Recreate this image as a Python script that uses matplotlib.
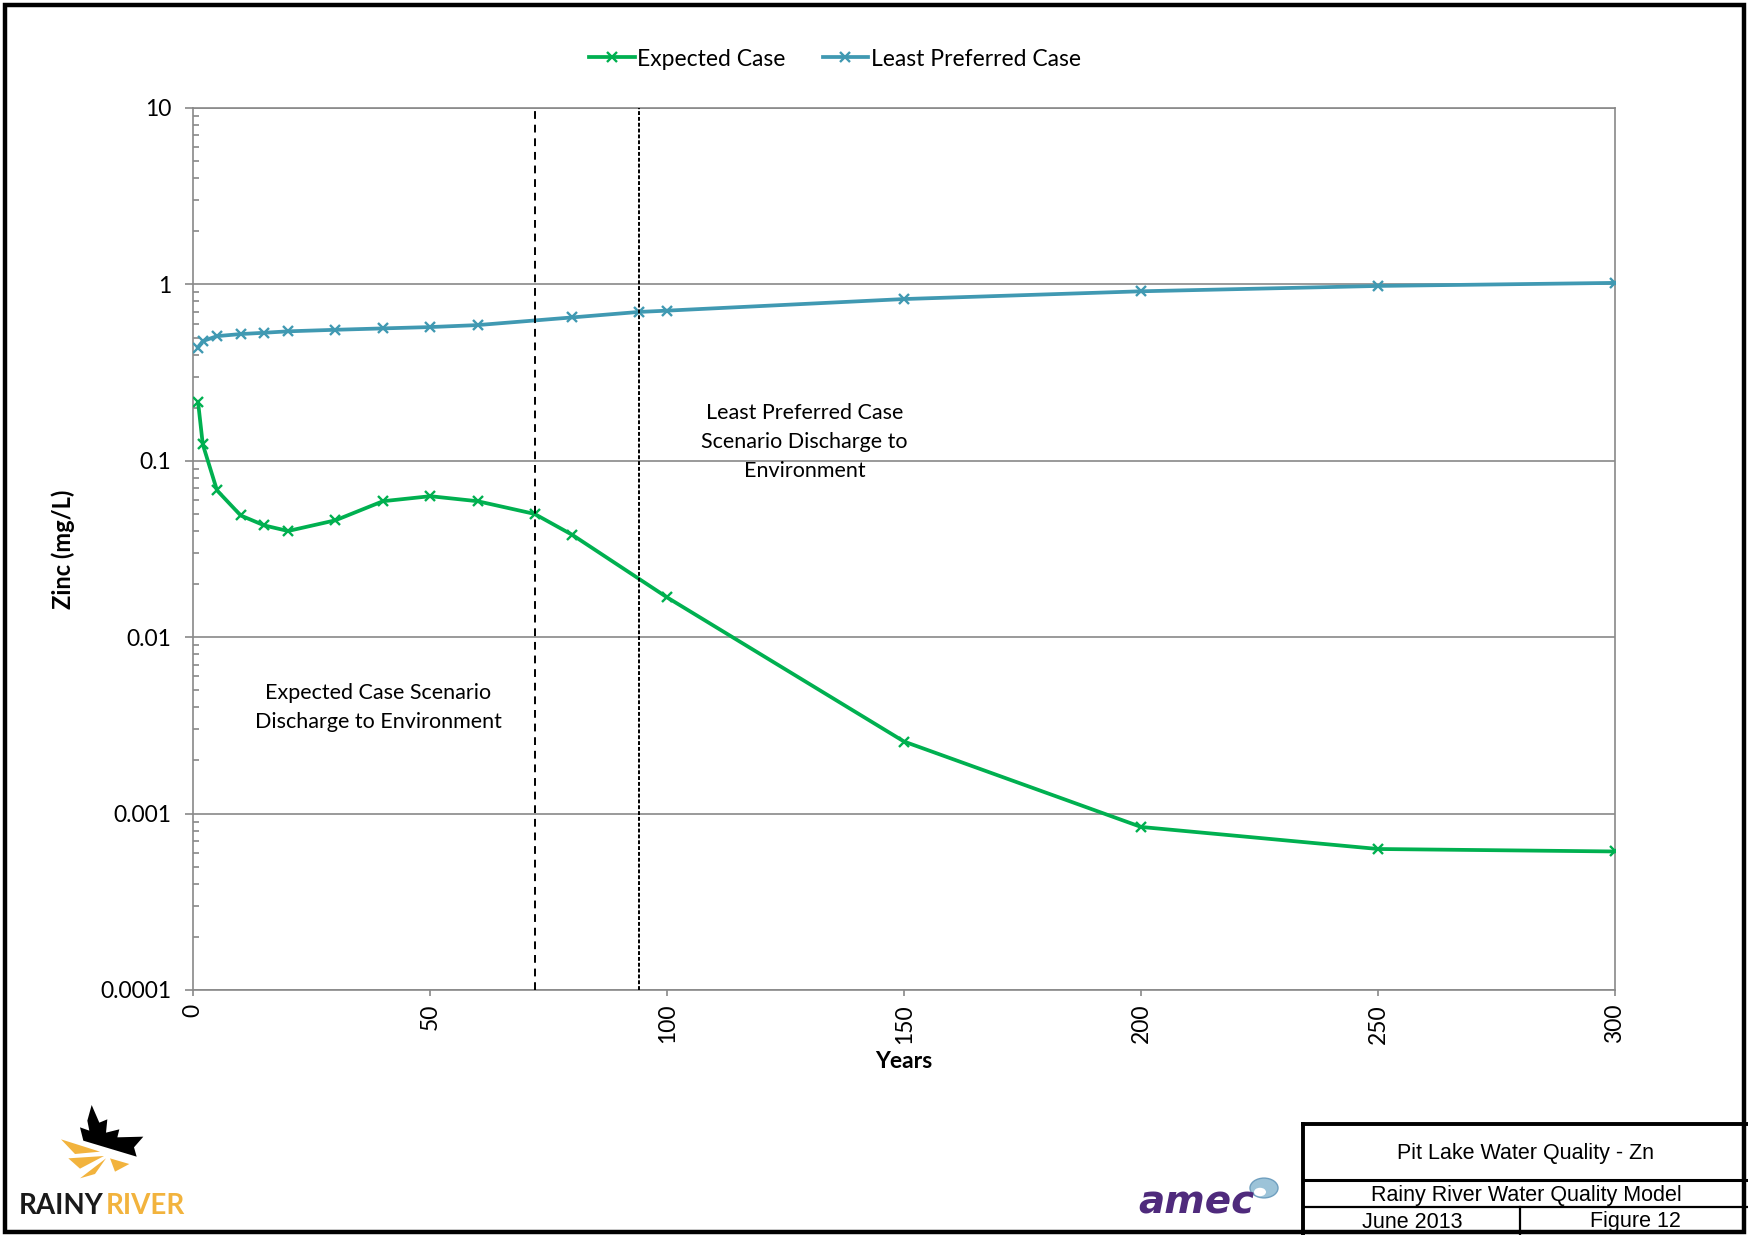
import numpy as np
import matplotlib
matplotlib.use('Agg')
import matplotlib.pyplot as plt
from matplotlib.lines import Line2D
from matplotlib.patches import Polygon, Rectangle, Circle
from matplotlib.ticker import LogLocator, FixedLocator, FuncFormatter, NullFormatter

# data
years_expected = [1, 2, 5, 10, 15, 20, 30, 40, 50, 60, 72, 80, 100, 150, 200, 250, 300]
zn_expected = [0.216, 0.124, 0.068, 0.049, 0.043, 0.040, 0.046, 0.059, 0.063, 0.059,
               0.050, 0.038, 0.0168, 0.00256, 0.00084, 0.00063, 0.00061]
years_least = [1, 2, 5, 10, 15, 20, 30, 40, 50, 60, 80, 94, 100, 150, 200, 250, 300]
zn_least = [0.438, 0.477, 0.509, 0.523, 0.532, 0.542, 0.553, 0.563, 0.573, 0.588,
            0.650, 0.698, 0.710, 0.826, 0.914, 0.98, 1.02]
discharge_years = [72, 94]
x_ticks = [0, 50, 100, 150, 200, 250, 300]
y_ticks = [0.0001, 0.001, 0.01, 0.1, 1, 10]

W, H = 1749, 1235
GREEN = '#00b050'
BLUE = '#4099b2'
GRID = '#898989'
FONT = 'Lato'


def px(x, y):
    # pixel position (from top left) -> figure fraction
    return x / W, 1 - y / H


fig = plt.figure(figsize=(W / 100, H / 100), dpi=100)
ax = fig.add_axes([193.3 / W, 1 - 990 / H, (1615 - 193.3) / W, (990 - 108) / H])

ax.plot(years_expected, zn_expected, color=GREEN, lw=2.7, marker='x', ms=6.5,
        mew=1.7, label='Expected Case', zorder=3)
ax.plot(years_least, zn_least, color=BLUE, lw=2.7, marker='x', ms=6.5,
        mew=1.7, label='Least Preferred Case', zorder=3)

ax.axvline(discharge_years[0], color='black', lw=1.4, ls=(0, (4, 3)), zorder=4)
ax.axvline(discharge_years[1], color='black', lw=1.4, ls=(0, (2, 1)), zorder=4)

ax.set_yscale('log')
ax.set_ylim(1e-4, 10)
ax.set_xlim(0, 300)
ax.yaxis.set_major_locator(FixedLocator(y_ticks))
ax.yaxis.set_major_formatter(FuncFormatter(lambda v, p: f'{v:g}'))
ax.yaxis.set_minor_locator(LogLocator(base=10, subs=np.arange(2, 10)))
ax.yaxis.set_minor_formatter(NullFormatter())
ax.set_xticks(x_ticks)
ax.set_xticklabels([str(t) for t in x_ticks], rotation=90)

ax.grid(axis='y', which='major', color=GRID, lw=1.2, zorder=0)
for s in ax.spines.values():
    s.set_color(GRID)
    s.set_linewidth(1.2)

ax.tick_params(axis='y', which='major', direction='out', length=6, width=1.2,
               color=GRID, pad=10, labelsize=16.5)
ax.tick_params(axis='y', which='minor', direction='in', length=4.5, width=1.2,
               color=GRID)
ax.tick_params(axis='x', which='major', direction='out', length=4, width=1.2,
               color=GRID, pad=6, labelsize=16.5)
for lab in ax.get_xticklabels() + ax.get_yticklabels():
    lab.set_fontfamily(FONT)

ax.set_xlabel('Years', fontsize=16.5, fontweight='bold', fontfamily=FONT)
ax.xaxis.set_label_coords(0.5, -0.069)
ax.set_ylabel('Zinc (mg/L)', fontsize=17, fontweight='bold', fontfamily=FONT)
ax.yaxis.set_label_coords(-0.083, 0.5)

ax.text(129, 0.128, 'Least Preferred Case\nScenario Discharge to\nEnvironment',
        ha='center', va='center', fontsize=15.5, fontfamily=FONT, linespacing=1.55)
ax.text(39, 0.0040, 'Expected Case Scenario\nDischarge to Environment',
        ha='center', va='center', fontsize=15.5, fontfamily=FONT, linespacing=1.55)

leg = fig.legend(loc='center', bbox_to_anchor=px(835, 59), ncol=2, frameon=False,
                 handlelength=2.0, handletextpad=0.1, columnspacing=1.6,
                 numpoints=1, prop={'family': FONT, 'size': 16.5})

# outer frame
fig.add_artist(Rectangle(px(5, 1232), (W - 10) / W, (1232 - 5) / H, fill=False,
                         ec='black', lw=3.2, transform=fig.transFigure))

# title block
def fig_line(x0, y0, x1, y1, lw):
    a, b = px(x0, y0)
    c, d = px(x1, y1)
    fig.add_artist(Line2D([a, c], [b, d], color='black', lw=lw,
                          transform=fig.transFigure))

fig_line(1303, 1124, W, 1124, 2.8)
fig_line(1303, 1124, 1303, H, 2.8)
fig_line(1303, 1180, W, 1180, 2.2)
fig_line(1303, 1207, W, 1207, 1.6)
fig_line(1520, 1207, 1520, H, 1.6)

tb = dict(ha='center', va='center', fontsize=15.5, fontfamily='Liberation Sans')
fig.text(*px(1526, 1153), 'Pit Lake Water Quality - Zn', **tb)
fig.text(*px(1526, 1195), 'Rainy River Water Quality Model', **tb)
fig.text(*px(1412, 1222), 'June 2013', **tb)
fig.text(*px(1635, 1222), 'Figure 12', **tb)

# Rainy River logo
def zoom_pts(pts):
    return [px(x / 3, 1090 + y / 3) for x, y in pts]

leaf = [(275, 45), (298, 98), (322, 88), (318, 128), (358, 118), (352, 142),
        (430, 140), (402, 172), (410, 200), (250, 152), (240, 112), (268, 122),
        (262, 92)]
fig.add_artist(Polygon(zoom_pts(leaf), closed=True, fc='black', ec='none',
                       transform=fig.transFigure))
shards = [
    [(183, 148), (300, 185), (225, 192)],
    [(205, 205), (312, 198), (240, 236)],
    [(240, 265), (318, 205), (285, 252)],
    [(330, 205), (388, 222), (345, 245)],
]
for s in shards:
    fig.add_artist(Polygon(zoom_pts(s), closed=True, fc='#f2b33d', ec='none',
                           transform=fig.transFigure))
fig.text(*px(104, 1214), 'RAINY', ha='right', va='baseline', fontsize=20,
         fontweight='bold', fontfamily=FONT, color='#1a1a1a')
fig.text(*px(106, 1214), 'RIVER', ha='left', va='baseline', fontsize=20,
         fontweight='bold', fontfamily=FONT, color='#f2b33d')

# amec logo
fig.text(*px(1138, 1213), 'amec', ha='left', va='baseline', fontsize=28,
         fontweight='bold', fontstyle='italic', fontfamily='DejaVu Sans',
         color='#4f2a7c')
cx, cy = px(1264, 1188)
fig.add_artist(Circle((cx, cy), 14 / W, fc='#9cc3d8', ec='#6f9fbf', lw=1,
                      transform=fig.transFigure))
hx, hy = px(1260, 1192)
fig.add_artist(Circle((hx, hy), 6 / W, fc='white', ec='none',
                      transform=fig.transFigure))

fig.savefig('out.png', dpi=100, facecolor='white')
